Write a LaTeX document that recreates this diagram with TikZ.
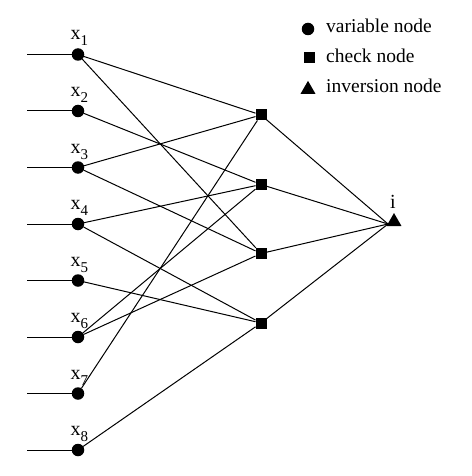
\documentclass[tikz,border=0pt]{standalone}
\usepackage{fontspec}
\setmainfont{Liberation Serif}
\usetikzlibrary{shapes.geometric}
\begin{document}
\begin{tikzpicture}[x=1pt,y=-1pt,
 var/.style={circle,fill=black,inner sep=0pt,outer sep=0pt,minimum size=12.5pt},
 chk/.style={rectangle,fill=black,inner sep=0pt,outer sep=0pt,minimum size=11pt},
 inv/.style={regular polygon,regular polygon sides=3,fill=black,inner sep=0pt,outer sep=0pt,minimum size=17.3pt},
 edge/.style={line width=1pt},
 lbl/.style={inner sep=0pt,anchor=base west},
 leg/.style={inner sep=0pt,anchor=base west,font=\fontsize{19.5}{20}\selectfont}]
\useasboundingbox (0,0) rectangle (471,476);
% variable nodes
\foreach \i/\y in {1/54.5,2/111,3/167.5,4/224,5/280.5,6/337,7/393.5,8/450} {
  \node[var] (x\i) at (78,\y) {};
  \coordinate (s\i) at (27,\y);
  \node[lbl] (l\i) at (70.5,\y-14.5) {\fontsize{20}{20}\selectfont x\raisebox{-6pt}{\fontsize{15}{15}\selectfont \i}};
  \draw[edge] (s\i) -- (x\i);
}
% check nodes
\foreach \j/\y in {1/115,2/184.5,3/253.5,4/323} {
  \node[chk] (c\j) at (261,\y) {};
}
% inversion node
\node[inv] (inv) at (394,221.7) {};
\node[inner sep=0pt,anchor=base,font=\fontsize{20}{20}\selectfont] (ilbl) at (393,208) {i};
\coordinate (iin) at (388,224);
% edges variable -> check
\foreach \a/\b in {1/1,1/3,2/2,3/1,3/3,4/2,4/4,5/4,6/2,6/3,7/1,8/4} {
  \draw[edge] (x\a) -- (c\b);
}
% edges check -> inversion
\foreach \b in {1,2,3,4} {
  \draw[edge] (c\b) -- (iin);
}
% legend
\node[var] (legv) at (308,29) {};
\node[chk] (legc) at (309,58) {};
\node[inv] (legi) at (308,89.5) {};
\node[leg] (tv) at (326,33) {variable node};
\node[leg] (tc) at (326,63) {check node};
\node[leg] (ti) at (326,93) {inversion node};
\end{tikzpicture}
\end{document}
